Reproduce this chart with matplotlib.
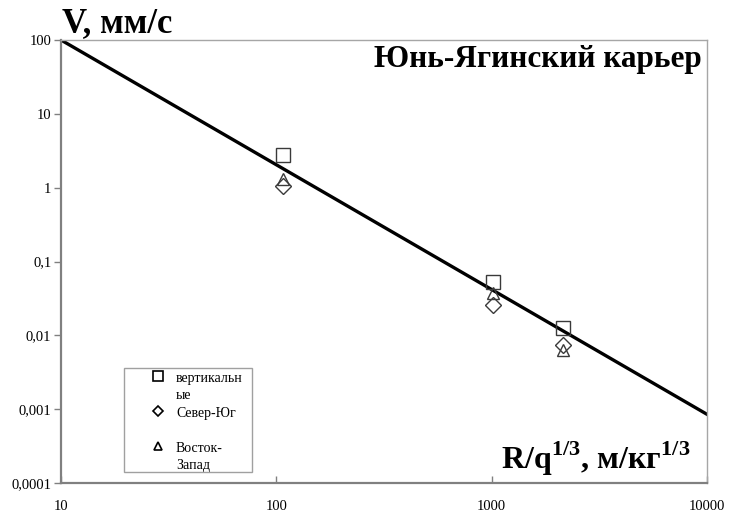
import numpy as np
import matplotlib
matplotlib.use('Agg')
from matplotlib import pyplot as plt
from matplotlib.ticker import FixedLocator, NullLocator
from matplotlib.patches import Rectangle

plt.rcParams['font.family'] = ['Liberation Serif', 'DejaVu Serif']
plt.rcParams['mathtext.fontset'] = 'custom'
plt.rcParams['mathtext.rm'] = 'Liberation Serif'
plt.rcParams['mathtext.bf'] = 'Liberation Serif:bold'

# приведённое расстояние R/q^(1/3) и скорости по компонентам
r_vert = [107, 1010, 2150]
v_vert = [2.75, 0.053, 0.0125]
r_sn = [107, 1010, 2150]
v_sn = [1.07, 0.026, 0.0075]
r_ew = [107, 1010, 2150]
v_ew = [1.3, 0.038, 0.0063]

# аппроксимация V = K * (R/q^1/3)^-n
K = 4900
n = 1.69
r_fit = [10, 10000]

yticks = [0.0001, 0.001, 0.01, 0.1, 1, 10, 100]
ytick_labels = ['0,0001', '0,001', '0,01', '0,1', '1', '10', '100']
xticks = [10, 100, 1000, 10000]
xtick_labels = ['10', '100', '1000', '10000']

legend_labels = ['вертикальн\nые', 'Север-Юг', 'Восток-\nЗапад']

fig = plt.figure(figsize=(7.36, 5.13), dpi=100)
ax = fig.add_axes([0.0829, 0.0585, 0.8777, 0.8635])

ax.plot(r_fit, [K * r ** -n for r in r_fit], color='black', lw=2.4, zorder=2)

mk = dict(linestyle='none', markerfacecolor='none', markeredgecolor='#3a3a3a',
          markeredgewidth=1.0, zorder=3)
ax.plot(r_vert, v_vert, marker='s', markersize=10, **mk)
ax.plot(r_sn, v_sn, marker='D', markersize=8, **mk)
ax.plot(r_ew, v_ew, marker='^', markersize=9, **mk)

ax.set_xscale('log')
ax.set_yscale('log')
ax.set_xlim(10, 10000)
ax.set_ylim(0.0001, 100)

ax.yaxis.set_major_locator(FixedLocator(yticks))
ax.yaxis.set_minor_locator(NullLocator())
ax.set_yticklabels(ytick_labels)
ax.xaxis.set_major_locator(FixedLocator(xticks))
ax.xaxis.set_minor_locator(NullLocator())
ax.set_xticklabels(xtick_labels)
ax.tick_params(axis='y', direction='out', length=5, width=1, color='#808080',
               labelsize=10.5, pad=2)
ax.tick_params(axis='x', direction='in', length=5, width=1, color='#808080',
               labelsize=10.5, pad=12)

for side in ['left', 'bottom']:
    ax.spines[side].set_color('#808080')
    ax.spines[side].set_linewidth(1.6)
for side in ['top', 'right']:
    ax.spines[side].set_color('#a6a6a6')
    ax.spines[side].set_linewidth(1.0)

fig.text(0.084, 0.937, 'V, мм/с', fontsize=25, fontweight='bold', ha='left', va='baseline')
ax.text(0.992, 0.94, 'Юнь-Ягинский карьер', transform=ax.transAxes,
        fontsize=22.5, fontweight='bold', ha='right', va='baseline')
ax.text(0.975, 0.032, r'R/q$^{\mathbf{1/3}}$, м/кг$^{\mathbf{1/3}}$', transform=ax.transAxes,
        fontsize=23, fontweight='bold', ha='right', va='baseline')

# легенда: рамка, маркеры и подписи в координатах осей
def ax_xy(px, py):
    return (px - 61) / 646, (483 - py) / 443

x0, y0 = ax_xy(124, 472)
x1, y1 = ax_xy(252, 368)
ax.add_patch(Rectangle((x0, y0), x1 - x0, y1 - y0, transform=ax.transAxes,
                       facecolor='white', edgecolor='#a0a0a0', lw=1.0, zorder=4))
leg_markers = ['s', 'D', '^']
leg_sizes = [7, 5, 6]
leg_rows = [376, 411, 446]
for m, s, lab, row in zip(leg_markers, leg_sizes, legend_labels, leg_rows):
    mx, my = ax_xy(158, row)
    ax.plot([mx], [my], transform=ax.transAxes, marker=m, markersize=s,
            markerfacecolor='none', markeredgecolor='black', markeredgewidth=1.2,
            linestyle='none', zorder=5, clip_on=False)
    tx, ty = ax_xy(176, row - 4)
    ax.text(tx, ty, lab, transform=ax.transAxes, fontsize=10, ha='left', va='top',
            linespacing=1.4, zorder=5)

plt.savefig('out.png', dpi=100)
